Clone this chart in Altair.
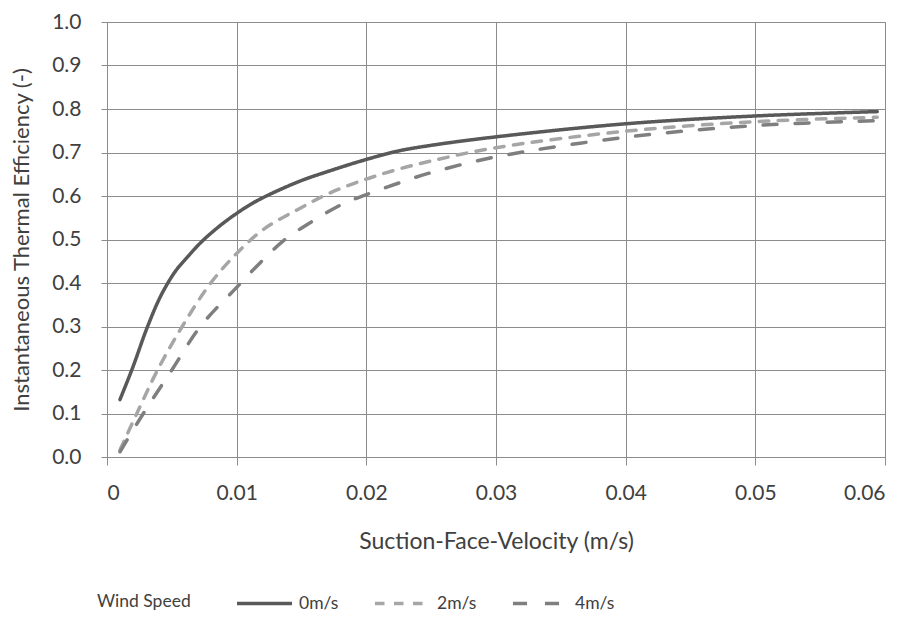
import altair as alt
import pandas as pd

# --- data ---
x_0 = [0.001, 0.002, 0.003, 0.0039, 0.0045, 0.0053, 0.0063, 0.0073, 0.0086, 0.01, 0.0115, 0.0147, 0.0172, 0.02, 0.0224, 0.0249, 0.03, 0.04, 0.05, 0.0594]
y_0 = [0.132, 0.207, 0.29, 0.355, 0.39, 0.428, 0.463, 0.495, 0.529, 0.56, 0.588, 0.632, 0.658, 0.684, 0.703, 0.716, 0.736, 0.766, 0.784, 0.794]

x_2 = [0.001, 0.0023, 0.0039, 0.0058, 0.008, 0.01, 0.0121, 0.01465, 0.0172, 0.02, 0.0224, 0.0249, 0.03, 0.04, 0.05, 0.0594]
y_2 = [0.016, 0.1, 0.2, 0.3, 0.4, 0.468, 0.524, 0.568, 0.607, 0.639, 0.661, 0.68, 0.711, 0.749, 0.771, 0.781]

x_4 = [0.001, 0.0028, 0.005, 0.0072, 0.01, 0.0118, 0.0136, 0.0159, 0.0182, 0.02, 0.0231, 0.0249, 0.03, 0.04, 0.05, 0.0594]
y_4 = [0.012, 0.1, 0.2, 0.3, 0.39, 0.446, 0.497, 0.543, 0.582, 0.603, 0.636, 0.653, 0.69, 0.735, 0.762, 0.773]

series = ["0m/s", "2m/s", "4m/s"]
colors = ["#595959", "#a6a6a6", "#7f7f7f"]
dashes = [[1, 0], [9.5, 9.5], [14, 18]]
x_ticks = [0, 0.01, 0.02, 0.03, 0.04, 0.05, 0.06]
y_ticks = [0.0, 0.1, 0.2, 0.3, 0.4, 0.5, 0.6, 0.7, 0.8, 0.9, 1.0]

rows = []
for name, xs, ys in zip(series, [x_0, x_2, x_4], [y_0, y_2, y_4]):
    for i, (a, b) in enumerate(zip(xs, ys)):
        rows.append({"Wind Speed": name, "v": a, "eff": b, "order": i})
df = pd.DataFrame(rows)

FONT = "Lato"
TXT = "#404040"
GRID = "#8c8c8c"

chart = alt.Chart(df).mark_line(strokeWidth=3.5, strokeCap="round", interpolate="catmull-rom").encode(
    x=alt.X("v:Q",
            scale=alt.Scale(domain=[0, 0.06], nice=False, zero=False),
            axis=alt.Axis(title="Suction-Face-Velocity (m/s)", values=x_ticks,
                          labelExpr="datum.value == 0 ? '0' : format(datum.value, '.2f')",
                          tickSize=8, labelPadding=17, titlePadding=27, titleFontSize=23)),
    y=alt.Y("eff:Q",
            scale=alt.Scale(domain=[0, 1], nice=False),
            axis=alt.Axis(title="Instantaneous Thermal  Efficiency (-)", values=y_ticks,
                          format=".1f", tickSize=6, labelPadding=20, titlePadding=18,
                          titleFontSize=22)),
    color=alt.Color("Wind Speed:N",
                    scale=alt.Scale(domain=series, range=colors),
                    legend=alt.Legend(orient="none", legendX=-10, legendY=552,
                                      direction="horizontal", titleOrient="left",
                                      titleAnchor="middle", titleBaseline="top",
                                      symbolType="stroke", symbolSize=3025,
                                      symbolStrokeWidth=3.5, labelOffset=5,
                                      columnPadding=29, titlePadding=44)),
    strokeDash=alt.StrokeDash("Wind Speed:N",
                              scale=alt.Scale(domain=series, range=dashes)),
    order="order:Q",
).properties(
    width=778, height=435,
    autosize=alt.AutoSizeParams(type="none"),
    padding={"left": 99, "top": 14, "right": 14, "bottom": 154},
).configure(
    font=FONT,
    background="white",
).configure_view(
    stroke=GRID, strokeWidth=1,
).configure_axis(
    gridColor=GRID, gridWidth=1, gridOpacity=1,
    domainColor=GRID, domainWidth=1,
    tickColor=GRID, tickWidth=1,
    labelFont=FONT, labelFontSize=21, labelColor=TXT,
    titleFont=FONT, titleColor=TXT, titleFontWeight="normal",
).configure_legend(
    labelFont=FONT, labelFontSize=17.5, labelColor=TXT,
    titleFont=FONT, titleFontSize=17.5, titleColor=TXT, titleFontWeight="normal",
)

chart.save("out.html", embed_options={"renderer": "svg", "actions": False})
